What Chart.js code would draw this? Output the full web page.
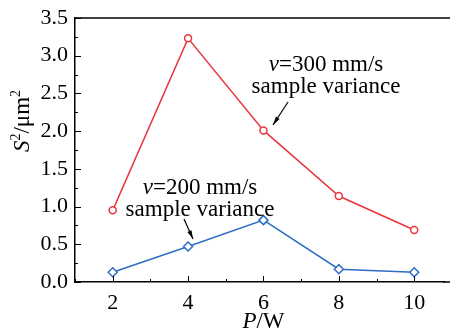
<!DOCTYPE html>
<html lang="en">
<head>
<meta charset="UTF-8">
<title>Sample variance vs power</title>
<script src="https://cdn.jsdelivr.net/npm/chart.js"></script>
<style>
    html, body { margin: 0; padding: 0; background: #fff; overflow: hidden; }
    canvas { display: block; }
</style>
</head>
<body>
<canvas id="chart" width="450" height="331"></canvas>
<script>
    // data
    const powers = [2, 4, 6, 8, 10];
    const var300 = [0.95, 3.23, 2.01, 1.14, 0.69];
    const var200 = [0.13, 0.47, 0.82, 0.17, 0.13];
    const xTickLabels = ['2', '4', '6', '8', '10'];

    const FONT = '"Liberation Serif", "Times New Roman", serif';

    function pts(xs, ys) {
        return xs.map((x, i) => ({ x: x, y: ys[i] }));
    }

    // draws the parts chart.js can't: inward ticks, top frame, titles, notes
    const extras = {
        id: 'extras',
        afterDraw(chart) {
            const ctx = chart.ctx;
            const a = chart.chartArea;
            const xs = chart.scales.x, ys = chart.scales.y;
            ctx.save();
            ctx.strokeStyle = '#000';
            ctx.lineWidth = 1.5;
            ctx.beginPath();
            ctx.moveTo(a.left, a.top);
            ctx.lineTo(450, a.top);
            // frame runs on to the page edge
            ctx.moveTo(a.right - 1, a.bottom);
            ctx.lineTo(450, a.bottom);
            ctx.stroke();

            ctx.lineWidth = 1;
            for (let v = 1; v <= 10; v++) {
                const px = Math.round(xs.getPixelForValue(v)) + 0.5;
                const len = v % 2 === 0 ? 6 : 3;
                ctx.beginPath();
                ctx.moveTo(px, a.bottom);
                ctx.lineTo(px, a.bottom - len);
                ctx.stroke();
            }
            for (let k = 0; k <= 14; k++) {
                const py = Math.round(ys.getPixelForValue(k * 0.25)) + 0.5;
                const len = k % 2 === 0 ? 6 : 3;
                ctx.beginPath();
                ctx.moveTo(a.left, py);
                ctx.lineTo(a.left + len, py);
                ctx.stroke();
            }

            // axis titles
            ctx.fillStyle = '#000';
            ctx.textBaseline = 'alphabetic';
            const xt = [['P', 'italic '], ['/W', '']];
            let w = 0;
            xt.forEach(p => { ctx.font = p[1] + '23px ' + FONT; w += ctx.measureText(p[0]).width; });
            let cx = xs.getPixelForValue(6) - w / 2;
            xt.forEach(p => {
                ctx.font = p[1] + '23px ' + FONT;
                ctx.fillText(p[0], cx, 328);
                cx += ctx.measureText(p[0]).width;
            });

            ctx.save();
            ctx.translate(29, 121);
            ctx.rotate(-Math.PI / 2);
            const yt = [['S', 'italic ', 23, 0], ['2', '', 14, -9], ['/\u03bcm', '', 23, 0], ['2', '', 14, -9]];
            w = 0;
            yt.forEach(p => { ctx.font = p[1] + p[2] + 'px ' + FONT; w += ctx.measureText(p[0]).width; });
            cx = -w / 2;
            yt.forEach(p => {
                ctx.font = p[1] + p[2] + 'px ' + FONT;
                ctx.fillText(p[0], cx, p[3]);
                cx += ctx.measureText(p[0]).width;
            });
            ctx.restore();

            // annotations
            function note(lines, cxm, y0) {
                lines.forEach((line, i) => {
                    let tw = 0;
                    line.forEach(p => { ctx.font = p[1] + '23px ' + FONT; tw += ctx.measureText(p[0]).width; });
                    let x = cxm - tw / 2;
                    line.forEach(p => {
                        ctx.font = p[1] + '23px ' + FONT;
                        ctx.fillText(p[0], x, y0 + i * 22);
                        x += ctx.measureText(p[0]).width;
                    });
                });
            }
            function arrow(x1, y1, x2, y2) {
                ctx.lineWidth = 1.2;
                ctx.beginPath();
                ctx.moveTo(x1, y1);
                ctx.lineTo(x2, y2);
                ctx.stroke();
                const ang = Math.atan2(y2 - y1, x2 - x1);
                ctx.beginPath();
                ctx.moveTo(x2, y2);
                ctx.lineTo(x2 - 9 * Math.cos(ang - 0.25), y2 - 9 * Math.sin(ang - 0.25));
                ctx.lineTo(x2 - 9 * Math.cos(ang + 0.25), y2 - 9 * Math.sin(ang + 0.25));
                ctx.closePath();
                ctx.fill();
            }
            note([[['v', 'italic '], ['=300 mm/s', '']], [['sample variance', '']]], 326, 71);
            arrow(288, 102, 273, 125);
            note([[['v', 'italic '], ['=200 mm/s', '']], [['sample variance', '']]], 200, 194);
            arrow(184, 219, 193, 239);
            ctx.restore();
        }
    };

    new Chart(document.getElementById('chart'), {
        type: 'line',
        data: {
            datasets: [{
                label: 'v=300 mm/s',
                data: pts(powers, var300),
                borderColor: '#e8363c',
                backgroundColor: '#fff',
                borderWidth: 1.5,
                pointStyle: 'circle',
                pointRadius: 3.5,
                pointBorderWidth: 1.5,
                pointBackgroundColor: '#fff',
                tension: 0
            }, {
                label: 'v=200 mm/s',
                data: pts(powers, var200),
                borderColor: '#2d6dc6',
                backgroundColor: '#fff',
                borderWidth: 1.5,
                pointStyle: 'rectRot',
                pointRadius: 4.5,
                pointBorderWidth: 1.5,
                pointBackgroundColor: '#fff',
                tension: 0
            }]
        },
        options: {
            responsive: false,
            animation: false,
            devicePixelRatio: 1,
            layout: { padding: { top: 18, right: 0, left: 0, bottom: 0 } },
            plugins: { legend: { display: false }, tooltip: { enabled: false } },
            scales: {
                x: {
                    type: 'linear',
                    min: 1,
                    max: 10.79,
                    afterBuildTicks: s => { s.ticks = powers.map(v => ({ value: v })); },
                    afterFit: s => { s.height = 49; s.paddingLeft = 0; s.paddingRight = 0; },
                    grid: { display: false, drawTicks: false },
                    border: { display: true, color: '#000', width: 1.5 },
                    ticks: {
                        color: '#000',
                        padding: 8,
                        maxRotation: 0,
                        font: { family: FONT, size: 22 },
                        callback: (v, i) => xTickLabels[i]
                    }
                },
                y: {
                    min: 0,
                    max: 3.5,
                    afterFit: s => { s.width = 75; s.paddingTop = 0; s.paddingBottom = 0; },
                    grid: { display: false, drawTicks: false },
                    border: { display: true, color: '#000', width: 1.5 },
                    ticks: {
                        color: '#000',
                        padding: 7,
                        stepSize: 0.5,
                        font: { family: FONT, size: 22 },
                        callback: v => v.toFixed(1)
                    }
                }
            }
        },
        plugins: [extras]
    });
</script>
</body>
</html>
